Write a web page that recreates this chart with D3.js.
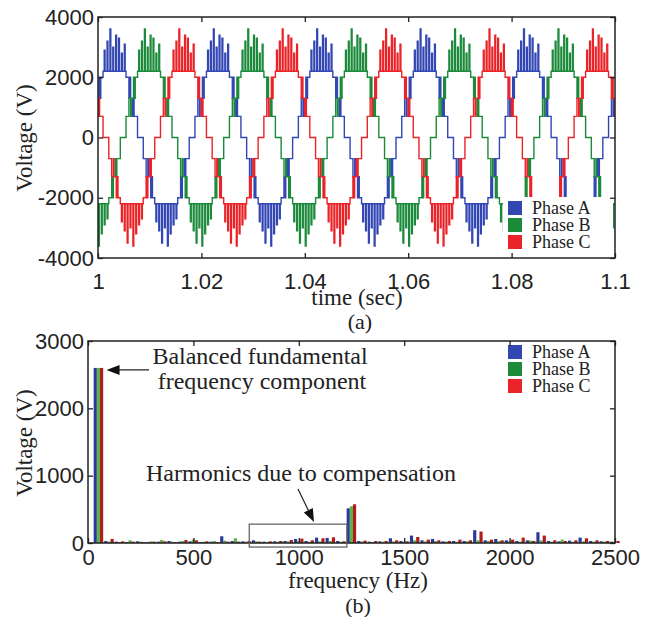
<!DOCTYPE html>
<html>
<head>
<meta charset="utf-8">
<script src="https://cdn.jsdelivr.net/npm/d3@7"></script>
<style>
  body { margin: 0; background: #fff; }
  svg { display: block; font-family: "Liberation Serif", "Times New Roman", serif; }
</style>
</head>
<body>
<div id="fig"></div>
<script>
// ---- data ----
const phases = ["Phase A", "Phase B", "Phase C"];
const waveColors = ["#3246b4", "#1b8a3a", "#ea2328"];
const barColors = ["#2a389c", "#5db347", "#b01b1b"];

// (a) one 50 Hz cycle of the phase voltage, step-after, angle in degrees from rising zero crossing
const period = 0.02;
const phaseStart = [0.9982, 1.00487, 1.01153]; // rising zero crossing of each phase (s)
const stepAngle = [0, 10, 20, 26, 28, 36, 40, 42, 50,
  54, 57, 64, 67, 74, 77, 84, 87, 94, 97, 104, 107, 114, 117, 124, 127,
  130, 140, 144, 146, 152, 156, 158, 170,
  190, 200, 206, 208, 216, 220, 222, 230,
  234, 237, 244, 247, 254, 257, 264, 267, 274, 277, 284, 287, 294, 297, 304, 307,
  310, 320, 324, 326, 332, 336, 338, 350];
const stepVolt = [0, 700, 1300, 700, 1300, 2000, 1300, 2000, 2200,
  2900, 2200, 3200, 2200, 3600, 2200, 3000, 2200, 3400, 2200, 3300, 2200, 2800, 2200, 3100, 2200,
  2000, 1300, 2000, 1300, 700, 1300, 700, 0,
  -700, -1300, -700, -1300, -2000, -1300, -2000, -2200,
  -2800, -2200, -3100, -2200, -3500, -2200, -3000, -2200, -3600, -2200, -3200, -2200, -2900, -2200, -2700, -2200,
  -2000, -1300, -2000, -1300, -700, -1300, -700, 0];
const timeTicks = [1, 1.02, 1.04, 1.06, 1.08, 1.1];
const voltTicks = [-4000, -2000, 0, 2000, 4000];

// (b) harmonic spectrum
const harmFreq = [50, 100, 150, 200, 250, 300, 350, 400, 450, 500, 550, 600, 650, 700, 750, 800, 850, 900, 950, 1000,
  1050, 1100, 1150, 1200, 1250, 1300, 1350, 1400, 1450, 1500, 1550, 1600, 1650, 1700, 1750, 1800, 1850, 1900, 1950, 2000,
  2050, 2100, 2150, 2200, 2250, 2300, 2350, 2400, 2450, 2500];
const harmA = [2600, 30, 20, 15, 25, 15, 20, 30, 20, 25, 15, 20, 100, 30, 25, 40, 20, 25, 30, 60,
  30, 80, 75, 30, 515, 30, 20, 25, 70, 30, 110, 40, 60, 25, 30, 30, 190, 40, 60, 40,
  30, 40, 160, 30, 25, 35, 80, 30, 25, 20];
const harmB = [2600, 20, 15, 40, 20, 25, 45, 20, 30, 50, 20, 30, 35, 70, 20, 25, 15, 20, 25, 30,
  20, 25, 30, 20, 545, 25, 15, 20, 25, 20, 40, 25, 30, 20, 20, 25, 40, 30, 30, 25,
  20, 35, 40, 20, 50, 20, 25, 20, 20, 15];
const harmC = [2600, 60, 25, 20, 15, 20, 25, 15, 45, 40, 25, 15, 20, 20, 30, 20, 25, 30, 45, 65,
  40, 70, 85, 25, 575, 35, 30, 30, 40, 25, 90, 50, 40, 30, 50, 40, 170, 50, 40, 50,
  80, 30, 110, 40, 30, 40, 70, 40, 30, 30];
const freqTicks = [0, 500, 1000, 1500, 2000, 2500];
const magTicks = [0, 1000, 2000, 3000];

// ---- drawing ----
const W = 648, H = 617;
const svg = d3.select("#fig").append("svg").attr("width", W).attr("height", H);
const ink = "#222";

function frame(g, x, y, xTicks, yTicks, xFmt, labelGap) {
  const [x0, x1] = x.range(), [y0, y1] = y.range();
  g.append("g").attr("transform", `translate(0,${y0})`)
    .call(d3.axisBottom(x).tickValues(xTicks).tickSize(-5).tickFormat(xFmt))
    .call(a => a.select(".domain").remove())
    .call(a => a.selectAll("text").attr("y", labelGap).attr("dy", "0.35em").attr("font-size", 22).attr("fill", ink).attr("font-family", null));
  g.append("g").attr("transform", `translate(0,${y1})`)
    .call(d3.axisTop(x).tickValues(xTicks).tickSize(-5).tickFormat(""))
    .call(a => a.select(".domain").remove());
  g.append("g").attr("transform", `translate(${x0},0)`)
    .call(d3.axisLeft(y).tickValues(yTicks).tickSize(-5).tickFormat(d => String(d)))
    .call(a => a.select(".domain").remove())
    .call(a => a.selectAll("text").attr("x", -4).attr("font-size", 22).attr("fill", ink).attr("font-family", null));
  g.append("g").attr("transform", `translate(${x1},0)`)
    .call(d3.axisRight(y).tickValues(yTicks).tickSize(-5).tickFormat(""))
    .call(a => a.select(".domain").remove());
  g.selectAll(".tick line").attr("stroke", ink).attr("stroke-width", 1.3);
  g.append("rect").attr("x", x0).attr("y", y1).attr("width", x1 - x0).attr("height", y0 - y1)
    .attr("fill", "none").attr("stroke", ink).attr("stroke-width", 1.5);
}

function legend(g, x, y) {
  g.append("rect").attr("x", x - 5).attr("y", y - 11).attr("width", 110).attr("height", 54).attr("fill", "#fff");
  phases.forEach((p, i) => {
    g.append("rect").attr("x", x).attr("y", y - 7 + i * 17).attr("width", 14).attr("height", 14).attr("fill", waveColors[i]);
    g.append("text").attr("x", x + 24).attr("y", y + i * 17).attr("dy", "0.33em")
      .attr("font-size", 18).attr("fill", ink).text(p);
  });
}

// (a) time-domain voltages
const xa = d3.scaleLinear().domain([1, 1.1]).range([98, 615]);
const ya = d3.scaleLinear().domain([-4000, 4000]).range([258, 17]);

svg.append("clipPath").attr("id", "clipA").append("rect")
  .attr("x", 98).attr("y", 17).attr("width", 517).attr("height", 241);

const line = d3.line().x(d => xa(d[0])).y(d => ya(d[1])).curve(d3.curveStepAfter);
function wave(p) {
  const pts = [];
  for (let k = -1; k <= 6; k++) {
    stepAngle.forEach((a, j) => pts.push([phaseStart[p] + (k + a / 360) * period, stepVolt[j]]));
  }
  return pts;
}
const ga = svg.append("g");
ga.append("g").attr("clip-path", "url(#clipA)")
  .selectAll("path").data(phases).join("path")
  .attr("d", (d, i) => line(wave(i)))
  .attr("fill", "none").attr("stroke", (d, i) => waveColors[i])
  .attr("stroke-width", 1.4).attr("stroke-linejoin", "miter");

legend(ga, 508, 208);
frame(ga, xa, ya, timeTicks, voltTicks, d => String(+d.toFixed(2)), 23);

ga.append("text").attr("transform", "translate(24,138) rotate(-90)").attr("text-anchor", "middle")
  .attr("dy", "0.35em").attr("font-size", 23).attr("fill", ink).text("Voltage (V)");
ga.append("text").attr("x", 357).attr("y", 297).attr("text-anchor", "middle").attr("dy", "0.35em")
  .attr("font-size", 23).attr("fill", ink).text("time (sec)");
ga.append("text").attr("x", 360).attr("y", 321).attr("text-anchor", "middle").attr("dy", "0.35em")
  .attr("font-size", 22).attr("fill", ink).text("(a)");

// (b) spectrum
const xb = d3.scaleLinear().domain([0, 2500]).range([88, 615]);
const yb = d3.scaleLinear().domain([0, 3000]).range([543, 341]);
const series = [harmA, harmB, harmC];
const barOffset = [-23, -8, 7], barWidth = 15;

const gb = svg.append("g");
series.forEach((vals, i) => {
  gb.append("g").selectAll("rect").data(vals).join("rect")
    .attr("x", (d, j) => xb(harmFreq[j] + barOffset[i]))
    .attr("width", xb(barWidth) - xb(0))
    .attr("y", d => yb(d))
    .attr("height", d => yb(0) - yb(d))
    .attr("fill", barColors[i]);
});

legend(gb, 508, 352);
frame(gb, xb, yb, freqTicks, magTicks, d => String(d), 14);

gb.append("text").attr("transform", "translate(24,443) rotate(-90)").attr("text-anchor", "middle")
  .attr("dy", "0.35em").attr("font-size", 23).attr("fill", ink).text("Voltage (V)");
gb.append("text").attr("x", 358).attr("y", 580).attr("text-anchor", "middle").attr("dy", "0.35em")
  .attr("font-size", 23).attr("fill", ink).text("frequency (Hz)");
gb.append("text").attr("x", 358).attr("y", 605).attr("text-anchor", "middle").attr("dy", "0.35em")
  .attr("font-size", 22).attr("fill", ink).text("(b)");

// annotations
gb.append("text").attr("x", 260).attr("y", 364).attr("text-anchor", "middle")
  .attr("font-size", 24).attr("fill", ink).text("Balanced fundamental");
gb.append("text").attr("x", 262).attr("y", 389).attr("text-anchor", "middle")
  .attr("font-size", 24).attr("fill", ink).text("frequency component");
const tip1 = [xb(50) + 8, yb(2600) + 2];
gb.append("line").attr("x1", 149).attr("y1", tip1[1]).attr("x2", tip1[0] + 10).attr("y2", tip1[1])
  .attr("stroke", ink).attr("stroke-width", 1.2);
gb.append("path").attr("d", `M${tip1[0]},${tip1[1]}l13,-5v10z`).attr("fill", "#111");

gb.append("text").attr("x", 301).attr("y", 481).attr("text-anchor", "middle")
  .attr("font-size", 24).attr("fill", ink).text("Harmonics due to compensation");
const tip2 = [314, 522], tail2 = [298, 489];
const ang = Math.atan2(tip2[1] - tail2[1], tip2[0] - tail2[0]);
const hx = tip2[0] - 13 * Math.cos(ang), hy = tip2[1] - 13 * Math.sin(ang);
gb.append("line").attr("x1", tail2[0]).attr("y1", tail2[1]).attr("x2", hx).attr("y2", hy)
  .attr("stroke", ink).attr("stroke-width", 1.2);
gb.append("path")
  .attr("d", `M${tip2[0]},${tip2[1]}L${hx + 5 * Math.sin(ang)},${hy - 5 * Math.cos(ang)}L${hx - 5 * Math.sin(ang)},${hy + 5 * Math.cos(ang)}Z`)
  .attr("fill", "#111");
gb.append("rect").attr("x", xb(765)).attr("y", yb(280)).attr("width", xb(1228) - xb(765)).attr("height", yb(-60) - yb(280))
  .attr("fill", "none").attr("stroke", "#666").attr("stroke-width", 1.3);
</script>
</body>
</html>
